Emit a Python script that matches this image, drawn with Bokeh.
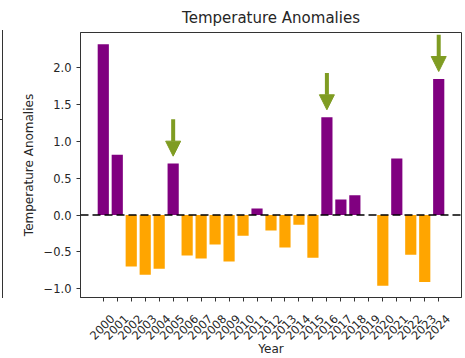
from bokeh.plotting import figure
from bokeh.models import (Range1d, FixedTicker, Span, Arrow, NormalHead,
                          ColumnDataSource, Div, LinearAxis)
from bokeh.layouts import row
from bokeh.embed import file_html
from bokeh.resources import INLINE

# ---- data ----
years = list(range(2000, 2025))
anomalies = [2.32, 0.82, -0.70, -0.81, -0.73, 0.70, -0.55, -0.59, -0.40, -0.63,
             -0.28, 0.09, -0.21, -0.44, -0.13, -0.58, 1.33, 0.21, 0.27, 0.0,
             -0.96, 0.77, -0.54, -0.91, 1.85]
highlight_years = [2005, 2016, 2024]
y_ticks = [-1.0, -0.5, 0.0, 0.5, 1.0, 1.5, 2.0]
y_tick_labels = ["\u22121.0", "\u22120.5", "0.0", "0.5", "1.0", "1.5", "2.0"]
x_tick_labels = [str(y) for y in years]

POS = "purple"
NEG = "orange"
ARROW = "#7f9c22"
TXT = "#262626"
SPINE = "#333333"
FONT = "DejaVu Sans"

X0, X1 = 1998.37, 2025.63
LABEL_SHIFT = 0.64   # labels are centred under ticks (matplotlib style)

colors = [POS if v > 0 else NEG for v in anomalies]
src = ColumnDataSource(dict(year=years, val=anomalies, color=colors))

p = figure(width=461, height=358, output_backend="svg", toolbar_location=None,
           x_range=Range1d(X0, X1), y_range=Range1d(-1.12, 2.48),
           min_border_left=77, min_border_right=3, min_border_top=30, min_border_bottom=61,
           title="Temperature Anomalies")
p.extra_x_ranges = {"lab": Range1d(X0 - LABEL_SHIFT, X1 - LABEL_SHIFT)}

p.vbar(x="year", top="val", bottom=0, width=0.8, fill_color="color",
       line_color=None, source=src)

p.add_layout(Span(location=0, dimension="width", line_color="black",
                  line_dash="8 4", line_width=1.5, level="overlay"))

for yr in highlight_years:
    v = anomalies[years.index(yr)]
    p.add_layout(Arrow(x_start=yr, y_start=v + 0.6, x_end=yr, y_end=v + 0.1,
                       line_color=ARROW, line_width=4,
                       end=NormalHead(size=15, fill_color=ARROW, line_color=ARROW,
                                      line_width=1)))

p.title.align = "center"
p.title.text_font = FONT
p.title.text_font_size = "15px"
p.title.text_font_style = "normal"
p.title.text_color = TXT
p.title.standoff = 12

p.grid.visible = False
p.outline_line_color = SPINE
p.background_fill_color = "white"
p.border_fill_color = "white"

# tick marks axis (no labels)
xa = p.xaxis[0]
xa.ticker = FixedTicker(ticks=years)
xa.major_label_overrides = {y: "" for y in years}
xa.major_label_text_color = None
xa.major_label_text_font_size = "1px"
xa.major_label_standoff = 0
xa.axis_line_color = SPINE
xa.major_tick_line_color = SPINE
xa.major_tick_out = 4
xa.major_tick_in = 0
xa.minor_tick_line_color = None

# label axis: rotated year labels
la = LinearAxis(x_range_name="lab", ticker=FixedTicker(ticks=years),
                major_label_overrides={y: l for y, l in zip(years, x_tick_labels)},
                major_label_orientation=0.7853981633974483,
                major_label_standoff=15,
                major_tick_line_color=None, major_tick_out=0, major_tick_in=0,
                minor_tick_line_color=None, axis_line_color=None,
                axis_label="Year", axis_label_standoff=-5)
p.add_layout(la, "below")

ya = p.yaxis[0]
ya.ticker = FixedTicker(ticks=y_ticks)
ya.major_label_overrides = {t: l for t, l in zip(y_ticks, y_tick_labels)}
ya.axis_label = "Temperature Anomalies"
ya.axis_label_standoff = 5
ya.axis_line_color = SPINE
ya.major_tick_line_color = SPINE
ya.major_tick_out = 4
ya.major_tick_in = 0
ya.minor_tick_line_color = None

for ax in (la, ya):
    ax.major_label_text_font = FONT
    ax.major_label_text_font_size = "11.5px"
    ax.major_label_text_color = TXT
    ax.axis_label_text_font = FONT
    ax.axis_label_text_font_size = "12px"
    ax.axis_label_text_font_style = "normal"
    ax.axis_label_text_color = TXT

strip = Div(text='<div style="margin-top:89px;width:3px;border-top:1px solid #333;"></div>',
            width=3, height=268, margin=(30, 0, 60, 0),
            styles={"border-right": "1px solid #333"})

layout = row(strip, p, spacing=0)
open("out.html", "w").write(file_html(layout, INLINE))
